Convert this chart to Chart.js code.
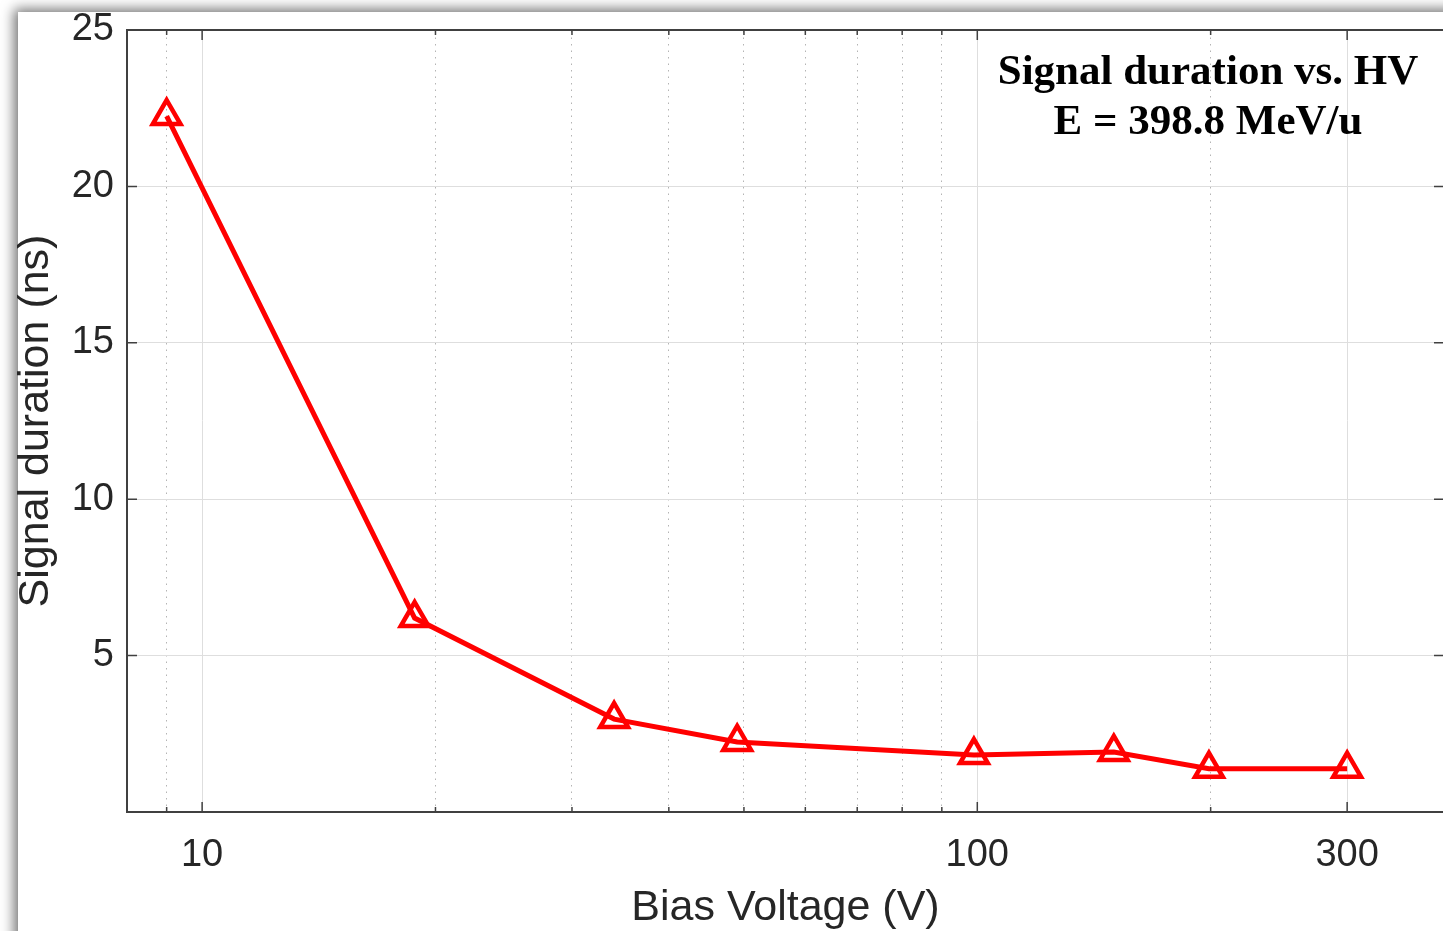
<!DOCTYPE html>
<html>
<head>
<meta charset="utf-8">
<title>Signal duration vs. HV</title>
<script src="https://cdn.jsdelivr.net/npm/chart.js@4.4.1/dist/chart.umd.min.js"></script>
<style>
  html, body { margin: 0; padding: 0; background: #fff; overflow: hidden; width: 1443px; height: 931px; }
  #paper { position: absolute; left: 18px; top: 12px; width: 1500px; height: 1000px; background: #fff;
           box-shadow: -4px -3px 12px rgba(0,0,0,.55); }
  #wrap { position: absolute; left: 0; top: 0; width: 1460px; height: 931px; }
</style>
</head>
<body>
<div id="paper"></div>
<div id="wrap"><canvas id="c" width="1460" height="931"></canvas></div>
<script>
// --- data ---
const voltages = [9, 18.8, 34, 49, 99, 150, 199, 300];
const durations = [22.25, 6.2, 2.97, 2.24, 1.82, 1.92, 1.38, 1.38];

const xMajorTicks = [10, 100, 300];
const xMinorTicks = [9, 20, 30, 40, 50, 60, 70, 80, 90, 200, 400];
const yTicks = [0, 5, 10, 15, 20, 25];
const annotation = ["Signal duration vs. HV", "E = 398.8 MeV/u"];

const AXIS = "#404040";
const TXT = "#262626";
const GRID = "#dedede";
const MINOR = "#b4b4b4";

const allXTicks = xMajorTicks.concat(xMinorTicks).sort((a, b) => a - b);
const isMajor = (v) => xMajorTicks.includes(v);

// scales must not push the plot box around with label overflow
function fixSize(s, w, h) {
  if (w !== null) s.width = w;
  if (h !== null) s.height = h;
  s.paddingTop = s.paddingBottom = s.paddingLeft = s.paddingRight = 0;
}

// MATLAB-style inward tick marks on all four sides
const frameTicks = {
  id: "frameTicks",
  beforeDatasetsDraw(chart) {
    const { ctx, chartArea: a, scales: { x, y } } = chart;
    ctx.save();
    ctx.strokeStyle = AXIS;
    ctx.lineWidth = 1.5;
    ctx.beginPath();
    allXTicks.forEach((v) => {
      const len = isMajor(v) ? 10 : 5;
      const px = x.getPixelForValue(v);
      ctx.moveTo(px, a.bottom); ctx.lineTo(px, a.bottom - len);
      ctx.moveTo(px, a.top); ctx.lineTo(px, a.top + len);
    });
    yTicks.forEach((v) => {
      const py = y.getPixelForValue(v);
      ctx.moveTo(a.left, py); ctx.lineTo(a.left + 10, py);
      ctx.moveTo(a.right, py); ctx.lineTo(a.right - 10, py);
    });
    ctx.stroke();
    ctx.restore();
  },
};

// text box in the upper right
const titleBox = {
  id: "titleBox",
  afterDatasetsDraw(chart) {
    const { ctx, chartArea: a } = chart;
    ctx.save();
    ctx.font = 'bold 43px "Liberation Serif", "Times New Roman", serif';
    ctx.fillStyle = "#000";
    ctx.textAlign = "center";
    ctx.textBaseline = "alphabetic";
    annotation.forEach((t, i) => ctx.fillText(t, a.right - 236, a.top + 54 + i * 50));
    ctx.restore();
  },
};

new Chart(document.getElementById("c"), {
  type: "line",
  data: {
    datasets: [
      {
        data: voltages.map((v, i) => ({ x: v, y: durations[i] })),
        borderColor: "#ff0000",
        borderWidth: 5,
        pointStyle: "triangle",
        pointRadius: 16,
        pointBorderWidth: 4.5,
        pointBorderColor: "#ff0000",
        pointBackgroundColor: "rgba(0,0,0,0)",
        tension: 0,
        clip: false,
      },
    ],
  },
  options: {
    responsive: false,
    devicePixelRatio: 1,
    animation: false,
    layout: { autoPadding: false, padding: { left: 0, top: 30, right: 16, bottom: 0 } },
    plugins: { legend: { display: false }, tooltip: { enabled: false } },
    scales: {
      x: {
        type: "logarithmic",
        position: "bottom",
        min: 8,
        max: 400,
        bounds: "data",
        afterBuildTicks: (s) => { s.ticks = allXTicks.map((v) => ({ value: v })); },
        afterFit: (s) => fixSize(s, null, 119),
        grid: {
          drawTicks: false,
          lineWidth: 1,
          color: (c) => (c.tick && isMajor(c.tick.value) ? GRID : "rgba(0,0,0,0)"),
        },
        border: { display: true, color: AXIS, width: 2 },
        ticks: {
          autoSkip: false,
          maxRotation: 0,
          minRotation: 0,
          padding: 21,
          color: TXT,
          font: { family: '"Liberation Sans", Arial, sans-serif', size: 38 },
          callback: (v) => (isMajor(v) ? String(v) : ""),
        },
        title: {
          display: true,
          text: "Bias Voltage (V)",
          color: TXT,
          font: { family: '"Liberation Sans", Arial, sans-serif', size: 43, lineHeight: 1 },
          padding: { top: 0, bottom: 1 },
        },
      },
      xMinor: {
        type: "logarithmic",
        position: "top",
        min: 8,
        max: 400,
        bounds: "data",
        afterBuildTicks: (s) => { s.ticks = allXTicks.map((v) => ({ value: v })); },
        afterFit: (s) => fixSize(s, null, 0),
        grid: {
          drawTicks: false,
          lineWidth: 1,
          color: (c) => (c.tick && !isMajor(c.tick.value) ? MINOR : "rgba(0,0,0,0)"),
        },
        border: { display: true, color: AXIS, width: 2, dash: [1.5, 5] },
        ticks: { display: false },
      },
      y: {
        type: "linear",
        position: "left",
        min: 0,
        max: 25,
        afterBuildTicks: (s) => { s.ticks = yTicks.map((v) => ({ value: v })); },
        afterFit: (s) => fixSize(s, 127, null),
        grid: {
          drawTicks: false,
          lineWidth: 1,
          color: (c) => (c.tick && c.tick.value > 0 && c.tick.value < 25 ? GRID : "rgba(0,0,0,0)"),
        },
        border: { display: true, color: AXIS, width: 2 },
        ticks: {
          padding: 13,
          color: TXT,
          font: { family: '"Liberation Sans", Arial, sans-serif', size: 38 },
          callback: (v) => (v === 0 ? "" : String(v)),
        },
        title: {
          display: true,
          text: "Signal duration (ns)",
          color: TXT,
          font: { family: '"Liberation Sans", Arial, sans-serif', size: 43, lineHeight: 1 },
          padding: { top: 15, bottom: 0 },
        },
      },
      yRight: {
        type: "linear",
        position: "right",
        min: 0,
        max: 25,
        afterFit: (s) => fixSize(s, 0, null),
        grid: { display: false },
        border: { display: true, color: AXIS, width: 2 },
        ticks: { display: false },
      },
    },
  },
  plugins: [frameTicks, titleBox],
});
</script>
</body>
</html>
